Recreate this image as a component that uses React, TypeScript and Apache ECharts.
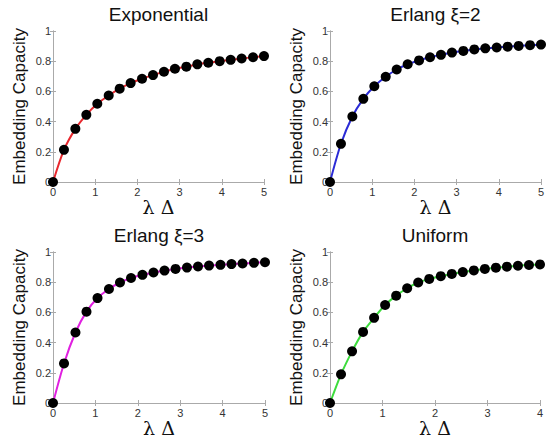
import React, { useEffect, useRef } from "react";
import * as echarts from "echarts";

const titles = ["Exponential", "Erlang \u03BE=2", "Erlang \u03BE=3", "Uniform"];
const lineColors = ["#e8282e", "#2b2bd6", "#e020e0", "#3ddc3d"];

const x5 = [0, 0.26, 0.53, 0.79, 1.05, 1.32, 1.58, 1.84, 2.11, 2.37, 2.63, 2.89, 3.16, 3.42, 3.68, 3.95, 4.21, 4.47, 4.74, 5];
const x4 = [0, 0.21, 0.42, 0.63, 0.84, 1.05, 1.26, 1.47, 1.68, 1.89, 2.11, 2.32, 2.53, 2.74, 2.95, 3.16, 3.37, 3.58, 3.79, 4];

const expY = [0, 0.213, 0.352, 0.445, 0.518, 0.573, 0.618, 0.655, 0.684, 0.708, 0.73, 0.75, 0.764, 0.779, 0.79, 0.8, 0.809, 0.818, 0.826, 0.834];
const erl2Y = [0, 0.253, 0.434, 0.551, 0.634, 0.697, 0.745, 0.78, 0.805, 0.826, 0.842, 0.857, 0.868, 0.878, 0.885, 0.891, 0.896, 0.901, 0.906, 0.91];
const erl3Y = [0, 0.262, 0.467, 0.605, 0.695, 0.755, 0.798, 0.828, 0.849, 0.864, 0.877, 0.888, 0.897, 0.904, 0.91, 0.915, 0.92, 0.924, 0.928, 0.932];
const uniY = [0, 0.19, 0.342, 0.471, 0.564, 0.649, 0.711, 0.76, 0.798, 0.822, 0.84, 0.855, 0.867, 0.878, 0.888, 0.896, 0.903, 0.909, 0.914, 0.918];

const xMaxes = [5, 5, 5, 4];
const xs = [x5, x5, x5, x4];
const ys = [expY, erl2Y, erl3Y, uniY];

const grids = [
  { left: 53, top: 31, width: 211, height: 151 },
  { left: 330, top: 31, width: 211, height: 151 },
  { left: 53, top: 252, width: 212, height: 151 },
  { left: 330, top: 252, width: 210, height: 151 },
];

export default function App() {
  const ref = useRef<HTMLDivElement>(null);
  useEffect(() => {
    const chart = echarts.init(ref.current!, undefined, { renderer: "svg" });
    const frame = "#aaaaaa";
    const xAxis: any[] = [];
    const yAxis: any[] = [];
    const series: any[] = [];
    const graphic: any[] = [];
    grids.forEach((g, i) => {
      const base = {
        gridIndex: i,
        type: "value",
        min: 0,
        axisLine: { show: true, lineStyle: { color: frame, width: 1 } },
        axisTick: { show: true, inside: true, length: 3, lineStyle: { color: frame } },
        splitLine: { show: false },
      };
      xAxis.push({
        ...base,
        max: xMaxes[i],
        interval: 1,
        position: "bottom",
        axisLabel: { color: "#333", fontSize: 11, fontFamily: "Liberation Sans", margin: 4 },
        name: "\u03BB \u0394",
        nameLocation: "middle",
        nameGap: 15,
        nameTextStyle: { fontFamily: "DejaVu Serif", fontSize: 19, color: "#111", verticalAlign: "top" },
      });
      xAxis.push({
        ...base,
        max: xMaxes[i],
        interval: 1,
        position: "top",
        axisLabel: { show: false },
      });
      yAxis.push({
        ...base,
        max: 1,
        interval: 0.2,
        position: "left",
        axisLabel: { color: "#333", fontSize: 11, fontFamily: "Liberation Sans", margin: 2 },
        name: "Embedding Capacity",
        nameLocation: "middle",
        nameGap: 25,
        nameRotate: 90,
        nameTextStyle: { fontFamily: "Liberation Sans", fontSize: 17, color: "#111" },
      });
      yAxis.push({
        ...base,
        max: 1,
        interval: 0.2,
        position: "right",
        axisLabel: { show: false },
      });
      series.push({
        type: "line",
        xAxisIndex: i * 2,
        yAxisIndex: i * 2,
        data: xs[i].map((x, k) => [x, ys[i][k]]),
        smooth: 0.3,
        symbol: "circle",
        symbolSize: 10,
        itemStyle: { color: "#000" },
        lineStyle: { color: lineColors[i], width: 2 },
        clip: false,
      });
      graphic.push({
        type: "text",
        x: g.left + g.width / 2,
        y: g.top - 17,
        style: {
          text: titles[i],
          align: "center",
          verticalAlign: "middle",
          textAlign: "center",
          textVerticalAlign: "middle",
          font: "19px 'Liberation Sans'",
          fill: "#111",
        },
      });
    });
    chart.setOption({
      animation: false,
      backgroundColor: "#fff",
      grid: grids.map((g) => ({ ...g, containLabel: false })),
      xAxis,
      yAxis,
      series,
      graphic,
    });
    return () => chart.dispose();
  }, []);
  return (
    <div
      ref={ref}
      style={{ position: "fixed", left: 0, top: 0, width: 548, height: 440 }}
    />
  );
}
